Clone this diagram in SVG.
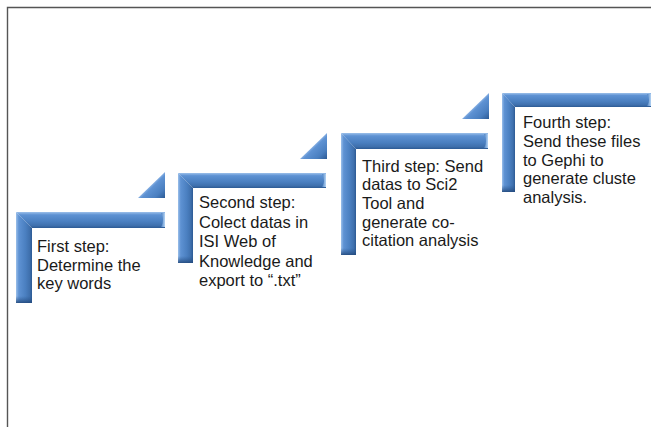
<svg xmlns="http://www.w3.org/2000/svg" width="651" height="427" viewBox="0 0 651 427">
<defs>
<linearGradient id="gh" x1="0" y1="0" x2="0" y2="1">
<stop offset="0" stop-color="#9cc0ea"/>
<stop offset="0.18" stop-color="#5e92d3"/>
<stop offset="0.6" stop-color="#4a7fc0"/>
<stop offset="0.85" stop-color="#3f70ad"/>
<stop offset="1" stop-color="#2c5a94"/>
</linearGradient>
<linearGradient id="gv" x1="0" y1="0" x2="1" y2="0">
<stop offset="0" stop-color="#9cc0ea"/>
<stop offset="0.18" stop-color="#5e92d3"/>
<stop offset="0.6" stop-color="#4a7fc0"/>
<stop offset="0.85" stop-color="#3f70ad"/>
<stop offset="1" stop-color="#2c5a94"/>
</linearGradient>
<linearGradient id="gb" x1="0" y1="0" x2="0" y2="1">
<stop offset="0" stop-color="#2c5a94" stop-opacity="0"/>
<stop offset="1" stop-color="#23497c" stop-opacity="0.9"/>
</linearGradient>
<linearGradient id="gt" x1="0" y1="0" x2="1" y2="1">
<stop offset="0.45" stop-color="#a6c6ee"/>
<stop offset="0.56" stop-color="#5e92d3"/>
<stop offset="0.8" stop-color="#4a7fc0"/>
<stop offset="1" stop-color="#2c5a94"/>
</linearGradient>
<linearGradient id="gc" x1="0" y1="0" x2="1" y2="0">
<stop offset="0" stop-color="#4a7fc0"/>
<stop offset="1" stop-color="#b5d4f4"/>
</linearGradient>
<g id="tri">
<polygon points="0,26 27,26 27,0" fill="url(#gt)"/>
</g>
</defs>
<style>
.frame{stroke:#555;stroke-width:1.4;fill:none}
.t{font-family:"Liberation Sans",Arial,sans-serif;font-size:16.5px;fill:#1a1a1a}
</style>
<g id="frame">
<polyline class="frame" points="7.5,427 7.5,7.5 651,7.5"/>
</g>
<g id="step1" transform="translate(16,212)">
<polygon points="0,0 149,0 149,16 16,16" fill="url(#gh)"/>
<polygon points="0,0 16,16 16,91 0,91" fill="url(#gv)"/>
<rect x="0" y="84" width="16" height="7" fill="url(#gb)"/>
<path d="M145,1 Q149,8 145,15 L149,15 L149,1 Z" fill="url(#gc)"/>
<text class="t" x="21" y="40">First step:<tspan x="21" dy="18.5">Determine the</tspan><tspan x="21" dy="18.5">key words</tspan></text>
</g>
<g id="tri1" transform="translate(138,172)"><use href="#tri"/></g>
<g id="step2" transform="translate(178,173)">
<polygon points="0,0 148,0 148,15 15,15" fill="url(#gh)"/>
<polygon points="0,0 15,15 15,90 0,90" fill="url(#gv)"/>
<rect x="0" y="83" width="15" height="7" fill="url(#gb)"/>
<path d="M144,1 Q148,7.5 144,14 L148,14 L148,1 Z" fill="url(#gc)"/>
<text class="t" x="21" y="35">Second step:<tspan x="21" dy="19.5">Colect datas in</tspan><tspan x="21" dy="19.5">ISI Web of</tspan><tspan x="21" dy="19.5">Knowledge and</tspan><tspan x="21" dy="19.5">export to “.txt”</tspan></text>
</g>
<g id="tri2" transform="translate(300,133)"><use href="#tri"/></g>
<g id="step3" transform="translate(341,133)">
<polygon points="0,0 147,0 147,16 15,16" fill="url(#gh)"/>
<polygon points="0,0 15,16 15,122 0,122" fill="url(#gv)"/>
<rect x="0" y="115" width="15" height="7" fill="url(#gb)"/>
<path d="M143,1 Q147,8 143,15 L147,15 L147,1 Z" fill="url(#gc)"/>
<text class="t" x="21" y="38.7">Third step: Send<tspan x="21" dy="18.6">datas to Sci2</tspan><tspan x="21" dy="18.6">Tool and</tspan><tspan x="21" dy="18.6">generate co-</tspan><tspan x="21" dy="18.6">citation analysis</tspan></text>
</g>
<g id="tri3" transform="translate(462,93)"><use href="#tri"/></g>
<g id="step4" transform="translate(502,93)">
<polygon points="0,0 149,0 149,14 13,14" fill="url(#gh)"/>
<polygon points="0,0 13,14 13,99 0,99" fill="url(#gv)"/>
<rect x="0" y="92" width="13" height="7" fill="url(#gb)"/>
<path d="M145,1 Q149,7 145,13 L149,13 L149,1 Z" fill="url(#gc)"/>
<text class="t" x="21" y="35.3">Fourth step:<tspan x="21" dy="18.7">Send these files</tspan><tspan x="21" dy="18.7">to Gephi to</tspan><tspan x="21" dy="18.7">generate cluste</tspan><tspan x="21" dy="18.7">analysis.</tspan></text>
</g>
</svg>
